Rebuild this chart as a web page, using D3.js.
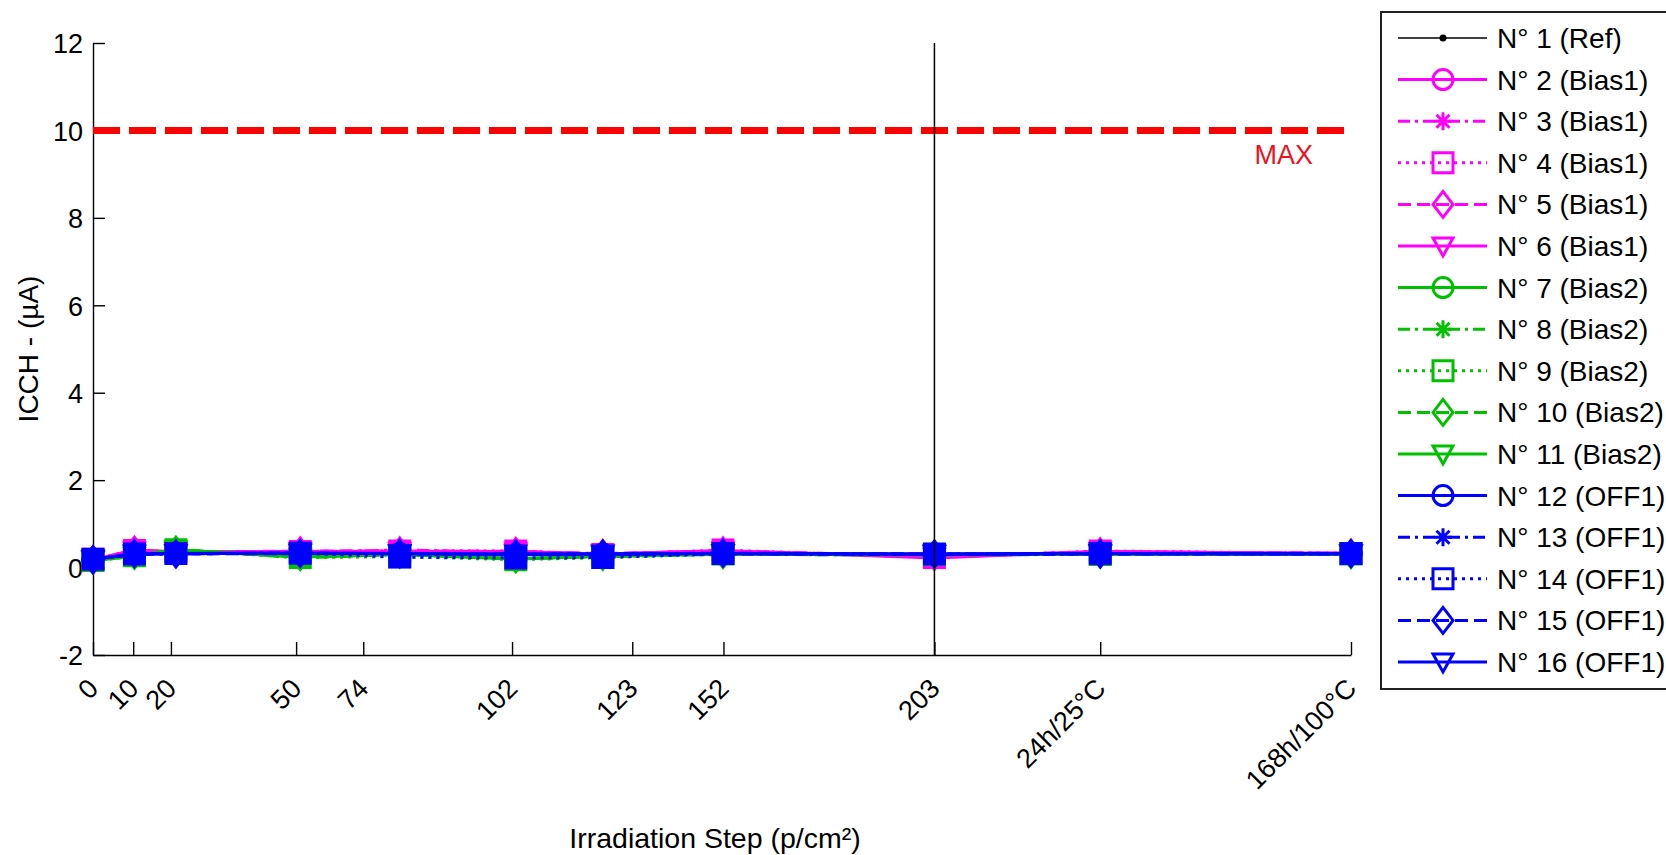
<!DOCTYPE html>
<html><head><meta charset="utf-8">
<script src="https://cdn.jsdelivr.net/npm/d3@7"></script>
<style>body{margin:0;background:#fff;overflow:hidden} text{font-family:"Liberation Sans",Arial,sans-serif}</style>
</head><body><svg id="c" width="1666" height="855"></svg>
<script>
// ---- data ----
const stepPos = [0, 10, 20, 50, 74, 102, 123, 152, 203, 243, 303.5];
const tickPos = [0, 9.7, 18.8, 49, 65.2, 101.1, 130.1, 152.1, 203, 243, 303.5];
const tickLabels = ["0","10","20","50","74","102","123","152","203","24h/25°C","168h/100°C"];
const yTicks = [-2, 0, 2, 4, 6, 8, 10, 12];
const maxLimit = 10;
const markerStep = 203;
const maxLabelPos = [280.2, 9.23];

const seriesNames = ["N° 1 (Ref)","N° 2 (Bias1)","N° 3 (Bias1)","N° 4 (Bias1)","N° 5 (Bias1)","N° 6 (Bias1)",
  "N° 7 (Bias2)","N° 8 (Bias2)","N° 9 (Bias2)","N° 10 (Bias2)","N° 11 (Bias2)",
  "N° 12 (OFF1)","N° 13 (OFF1)","N° 14 (OFF1)","N° 15 (OFF1)","N° 16 (OFF1)"];
const seriesColors = ["#000000","#ff00ff","#ff00ff","#ff00ff","#ff00ff","#ff00ff",
  "#00c000","#00c000","#00c000","#00c000","#00c000",
  "#0000ff","#0000ff","#0000ff","#0000ff","#0000ff"];
const seriesStyles = ["-","-","-.",":","--","-","-","-.",":","--","-","-","-.",":","--","-"];
const seriesMarkers = [".","o","*","s","d","v","o","*","s","d","v","o","*","s","d","v"];

const n1  = [0.18,0.30,0.31,0.31,0.31,0.30,0.30,0.31,0.30,0.31,0.31];
const n2  = [0.18,0.40,0.36,0.37,0.37,0.37,0.31,0.39,0.22,0.37,0.32];
const n3  = [0.17,0.38,0.35,0.36,0.40,0.36,0.31,0.37,0.27,0.35,0.33];
const n4  = [0.19,0.39,0.36,0.37,0.38,0.38,0.30,0.40,0.23,0.38,0.32];
const n5  = [0.18,0.40,0.35,0.38,0.38,0.37,0.32,0.38,0.26,0.36,0.33];
const n6  = [0.17,0.38,0.36,0.36,0.37,0.36,0.31,0.38,0.24,0.37,0.32];
const n7  = [0.16,0.27,0.40,0.24,0.31,0.21,0.26,0.31,0.30,0.31,0.31];
const n8  = [0.15,0.26,0.42,0.22,0.30,0.20,0.25,0.30,0.29,0.30,0.30];
const n9  = [0.16,0.27,0.41,0.23,0.25,0.18,0.23,0.31,0.30,0.30,0.31];
const n10 = [0.17,0.28,0.40,0.25,0.31,0.20,0.26,0.30,0.29,0.31,0.30];
const n11 = [0.16,0.26,0.41,0.24,0.30,0.19,0.27,0.31,0.30,0.30,0.31];
const n12 = [0.19,0.31,0.32,0.33,0.32,0.30,0.31,0.32,0.31,0.32,0.32];
const n13 = [0.18,0.30,0.31,0.34,0.31,0.31,0.30,0.31,0.30,0.31,0.31];
const n14 = [0.19,0.31,0.32,0.33,0.24,0.22,0.23,0.32,0.31,0.32,0.32];
const n15 = [0.18,0.32,0.31,0.32,0.32,0.31,0.31,0.33,0.31,0.31,0.32];
const n16 = [0.19,0.31,0.32,0.33,0.32,0.31,0.31,0.32,0.31,0.32,0.31];
const seriesValues = [n1,n2,n3,n4,n5,n6,n7,n8,n9,n10,n11,n12,n13,n14,n15,n16];

// ---- drawing ----
const svg = d3.select("#c");
const FS = 27, FSL = 28;
const x = d3.scaleLinear().domain([0, 303.5]).range([93, 1351]);
const y = d3.scaleLinear().domain([-2, 12]).range([655, 43]);

const dashFor = s => s === "--" ? "13,6" : s === ":" ? "3,5" : s === "-." ? "12,5,3,5" : null;

function markerPath(type) {
  const p = d3.path();
  switch (type) {
    case "o": p.arc(0, 0, 10, 0, 2 * Math.PI); p.closePath(); break;
    case "s": p.rect(-10, -10, 20, 20); break;
    case "d": p.moveTo(0, -13); p.lineTo(10, 0); p.lineTo(0, 13); p.lineTo(-10, 0); p.closePath(); break;
    case "v": p.moveTo(-10, -8); p.lineTo(10, -8); p.lineTo(0, 10); p.closePath(); break;
    case "*":
      p.moveTo(0, -9); p.lineTo(0, 9); p.moveTo(-9, 0); p.lineTo(9, 0);
      p.moveTo(-6.5, -6.5); p.lineTo(6.5, 6.5); p.moveTo(-6.5, 6.5); p.lineTo(6.5, -6.5); break;
  }
  return p.toString();
}
function drawMarker(g, type, color, cx, cy, filled) {
  if (type === ".") {
    g.append("circle").attr("cx", cx).attr("cy", cy).attr("r", 3.5).attr("fill", color);
  } else {
    g.append("path").attr("d", markerPath(type)).attr("transform", `translate(${cx},${cy})`)
      .attr("fill", filled && type !== "*" ? color : "none").attr("stroke", color).attr("stroke-width", 3);
  }
}

// y axis
const yAxis = svg.append("g").attr("transform", `translate(${x(0)},0)`)
  .call(d3.axisLeft(y).tickValues(yTicks).tickSize(-12).tickSizeOuter(0).tickPadding(10).tickFormat(d => String(d)));
// x axis
const xAxis = svg.append("g").attr("transform", `translate(0,${y(-2)})`)
  .call(d3.axisBottom(x).tickValues(tickPos).tickSize(-13).tickSizeOuter(0).tickFormat(""));
[yAxis, xAxis].forEach(a => {
  a.select(".domain").attr("stroke", "#000").attr("stroke-width", 1.4);
  a.selectAll(".tick line").attr("stroke", "#000").attr("stroke-width", 1.4);
});
yAxis.selectAll(".tick text").attr("font-size", FS).attr("fill", "#000")
  .attr("font-family", '"Liberation Sans",Arial,sans-serif').attr("dy", "0.36em");

// rotated x tick labels
svg.append("g").selectAll("text").data(tickPos).join("text")
  .attr("transform", (d) => `translate(${x(d) + 7},${y(-2) + 35}) rotate(-45)`)
  .attr("text-anchor", "end").attr("font-size", FS).attr("fill", "#000")
  .text((d, i) => tickLabels[i]);

// axis labels
svg.append("text").attr("x", 715).attr("y", 848).attr("text-anchor", "middle")
  .attr("font-size", 28.5).attr("fill", "#000").text("Irradiation Step (p/cm²)");
svg.append("text").attr("transform", `translate(38,${(y(12) + y(-2)) / 2}) rotate(-90)`)
  .attr("text-anchor", "middle").attr("font-size", FSL).attr("fill", "#000").text("ICCH - (µA)");

// red MAX line
svg.append("line").attr("x1", x(0)).attr("x2", x(303.5)).attr("y1", y(maxLimit)).attr("y2", y(maxLimit))
  .attr("stroke", "#ff0000").attr("stroke-width", 7).attr("stroke-dasharray", "27,9");
svg.append("text").attr("x", x(maxLabelPos[0])).attr("y", y(maxLabelPos[1]))
  .attr("font-size", FS).attr("fill", "#ee1122").text("MAX");

// series
const line = d3.line().x((d, i) => x(stepPos[i])).y(d => y(d));
const plot = svg.append("g");
seriesValues.forEach((vals, si) => {
  const g = plot.append("g");
  const col = seriesColors[si];
  g.append("path").attr("d", line(vals)).attr("fill", "none").attr("stroke", col)
    .attr("stroke-width", si === 0 ? 1.5 : 3).attr("stroke-dasharray", dashFor(seriesStyles[si]));
  vals.forEach((v, i) => drawMarker(g, seriesMarkers[si], col, x(stepPos[i]), y(v), true));
});

// vertical line at 203
svg.append("line").attr("x1", x(markerStep)).attr("x2", x(markerStep)).attr("y1", y(12)).attr("y2", y(-2))
  .attr("stroke", "#000").attr("stroke-width", 1.5);

// legend
const lg = svg.append("g");
lg.append("rect").attr("x", 1381).attr("y", 12).attr("width", 320).attr("height", 677)
  .attr("fill", "#fff").attr("stroke", "#222").attr("stroke-width", 2);
seriesNames.forEach((name, i) => {
  const cy = 38 + i * 41.6;
  const col = seriesColors[i];
  lg.append("line").attr("x1", 1398).attr("x2", 1487).attr("y1", cy).attr("y2", cy)
    .attr("stroke", col).attr("stroke-width", i === 0 ? 1.5 : 3).attr("stroke-dasharray", dashFor(seriesStyles[i]));
  drawMarker(lg, seriesMarkers[i], col, 1443, cy, false);
  lg.append("text").attr("x", 1497).attr("y", cy + 10).attr("font-size", FSL).attr("fill", "#000").text(name);
});
</script></body></html>
